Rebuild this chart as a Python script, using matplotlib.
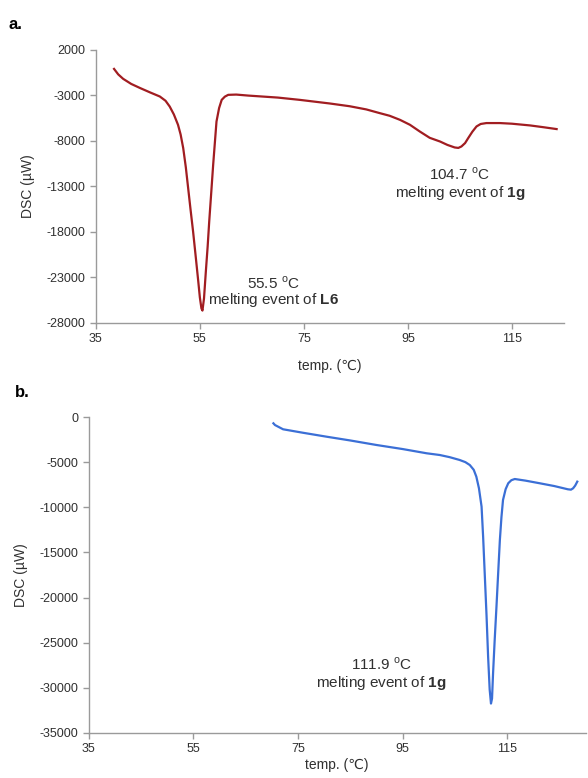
import matplotlib
matplotlib.use("Agg")
from matplotlib import pyplot as plt

plt.rcParams['font.family'] = ['Liberation Sans', 'DejaVu Sans']
plt.rcParams['axes.unicode_minus'] = False
plt.rcParams['mathtext.fontset'] = 'custom'
plt.rcParams['mathtext.rm'] = 'Liberation Sans'
plt.rcParams['mathtext.bf'] = 'Liberation Sans:bold'

### panel a data (L6 + 1g)
temp_a = [38.5, 39.3, 40.25, 41.8, 43.5, 45.5, 47.3, 48.4, 49.2, 50.0, 50.8, 51.3, 51.8, 52.3,
          52.75, 53.2, 53.7, 54.2, 54.7, 55.0, 55.3, 55.5, 55.8, 56.15, 56.5, 56.8, 57.2, 57.56,
          57.9, 58.2, 58.7, 59.2, 59.8, 60.45, 62.0, 64.3, 70.0, 74.2, 80.0, 83.8, 87.0, 89.6,
          91.5, 93.5, 95.4, 97.3, 99.2, 101.2, 102.6, 104.0, 104.7, 105.3, 106.0, 106.6, 107.4,
          108.2, 109.0, 110.1, 112.7, 115.0, 118.5, 121.0, 123.6]
dsc_a = [-100, -700, -1190, -1750, -2200, -2700, -3130, -3600, -4230, -5100, -6240, -7300,
         -8800, -10900, -13200, -15500, -17970, -20700, -23470, -25200, -26400, -26650, -25300,
         -22370, -19600, -16870, -13600, -10630, -8100, -5880, -4400, -3500, -3150, -2950, -2920,
         -3030, -3250, -3500, -3900, -4200, -4550, -4960, -5250, -5700, -6240, -6980, -7670,
         -8080, -8450, -8730, -8780, -8620, -8250, -7700, -7000, -6420, -6150, -6050, -6050,
         -6120, -6310, -6500, -6710]

### panel b data (1g)
temp_b = [70.3, 70.6, 72.15, 76.0, 80.45, 85.0, 90.0, 95.0, 99.6, 102.1, 104.0, 105.9, 107.0,
          107.85, 108.6, 109.1, 109.6, 110.1, 110.4, 110.7, 111.05, 111.35, 111.65, 111.9, 112.1,
          112.3, 112.6, 112.95, 113.3, 113.6, 113.9, 114.2, 114.7, 115.2, 115.8, 116.45, 118.5,
          121.2, 124.0, 126.6, 127.2, 127.6, 128.0, 128.4]
dsc_b = [-700, -890, -1360, -1750, -2180, -2600, -3100, -3550, -4020, -4210, -4450, -4760,
         -5000, -5320, -5850, -6610, -7900, -9930, -13300, -17310, -22000, -26540, -30200,
         -31750, -31200, -28380, -24800, -21000, -17000, -13620, -11100, -9190, -8000, -7340,
         -7000, -6870, -7050, -7340, -7650, -8010, -8050, -7900, -7600, -7160]

ticks_x = [35, 55, 75, 95, 115]
ticks_a = list(range(2000, -28001, -5000))
ticks_b = list(range(0, -35001, -5000))

AXIS_GREY = '#9a9a9a'
TEXT_COL = '#303030'
NOTE_SIZE = 11


def styleAxis(ax):
	for side in ['top', 'right']:
		ax.spines[side].set_visible(False)
	for side in ['left', 'bottom']:
		ax.spines[side].set_color(AXIS_GREY)
		ax.spines[side].set_linewidth(1.0)
	ax.tick_params(axis='both', direction='out', length=4, width=1.0, color=AXIS_GREY,
				   labelsize=9, labelcolor=TEXT_COL, pad=3.5)
	ax.set_xticks(ticks_x)
	ax.set_xlabel('temp. (\u2103)', fontsize=10, color=TEXT_COL)
	ax.set_ylabel('DSC (\u00b5W)', fontsize=10, color=TEXT_COL)


fig = plt.figure(figsize=(5.88, 7.78), dpi=100)

# panel a
ax1 = fig.add_axes([0.163, 0.585, 0.796, 0.351])
ax1.plot(temp_a, dsc_a, color='#a11d21', lw=1.6, solid_joinstyle='round')
ax1.set_xlim(35, 125)
ax1.set_ylim(-28000, 2000)
ax1.set_yticks(ticks_a)
styleAxis(ax1)
ax1.xaxis.labelpad = 10
ax1.yaxis.labelpad = 8
ax1.text(69.2, -23600, '55.5 $^{\\mathrm{o}}$C', fontsize=NOTE_SIZE, ha='center', va='center', color=TEXT_COL)
ax1.text(69.2, -25450, 'melting event of $\\mathbf{L6}$', fontsize=NOTE_SIZE, ha='center', va='center', color=TEXT_COL)
ax1.text(105.0, -11700, '104.7 $^{\\mathrm{o}}$C', fontsize=NOTE_SIZE, ha='center', va='center', color=TEXT_COL)
ax1.text(105.0, -13700, 'melting event of $\\mathbf{1g}$', fontsize=NOTE_SIZE, ha='center', va='center', color=TEXT_COL)

# panel b
ax2 = fig.add_axes([0.151, 0.058, 0.845, 0.406])
ax2.plot(temp_b, dsc_b, color='#3b6fd6', lw=1.6, solid_joinstyle='round')
ax2.set_xlim(35, 130)
ax2.set_ylim(-35000, 0)
ax2.set_yticks(ticks_b)
styleAxis(ax2)
ax2.xaxis.labelpad = 2
ax2.yaxis.labelpad = 8
ax2.text(91.0, -27450, '111.9 $^{\\mathrm{o}}$C', fontsize=NOTE_SIZE, ha='center', va='center', color=TEXT_COL)
ax2.text(91.0, -29450, 'melting event of $\\mathbf{1g}$', fontsize=NOTE_SIZE, ha='center', va='center', color=TEXT_COL)

fig.text(0.015, 0.968, 'a.', fontsize=12, fontweight='bold', va='center')
fig.text(0.025, 0.495, 'b.', fontsize=12, fontweight='bold', va='center')

fig.savefig('out.png', dpi=100)
